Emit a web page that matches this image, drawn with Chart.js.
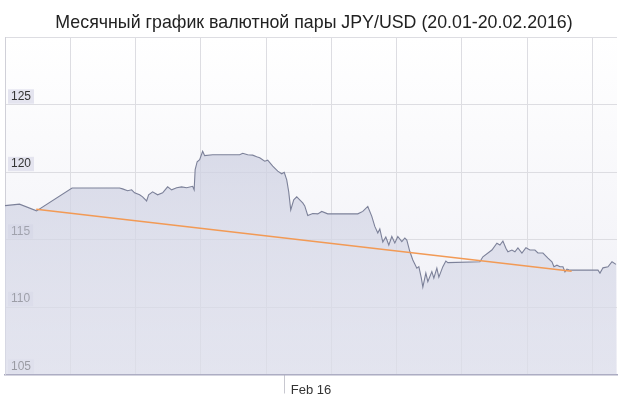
<!DOCTYPE html>
<html>
<head>
<meta charset="utf-8">
<script src="https://cdn.jsdelivr.net/npm/chart.js@4/dist/chart.umd.min.js"></script>
<style>
  html, body { margin: 0; padding: 0; background: #fff; }
  #wrap { position: relative; width: 628px; height: 396px; }
  #title {
    position: absolute; left: 0; top: 11px; width: 628px;
    text-align: center; line-height: 22px; white-space: nowrap;
    font-family: 'Liberation Sans', Arial, sans-serif; font-size: 17.8px; color: #222;
  }
  canvas { position: absolute; left: 0; top: 0; }
</style>
</head>
<body>
<div id="wrap">
  <canvas id="rateChart" width="628" height="396"></canvas>
  <div id="title">Месячный график валютной пары JPY/USD (20.01-20.02.2016)</div>
</div>
<script>
// time axis is an index along the month (no calendar gaps), price in JPY/USD
const times = [0, 14.5, 31.5, 67, 114.5, 117.5, 122.5, 126.5, 129.5, 134.5, 137.5, 141.5, 143.5, 147.5,
  152.5, 157.5, 162.5, 166.5, 171.5, 176.5, 181.5, 187.5, 189, 190, 192, 194.5, 197.5, 199.5, 207.5,
  234.5, 237.5, 242.5, 247.5, 251.5, 254.5, 259.5, 262.5, 267.5, 272.5, 276.5, 279, 281.5, 283.5,
  285.5, 288.5, 291.5, 294.5, 297.5, 299.5, 302.5, 307.5, 312.5, 316.5, 322.5, 352.5, 357.5, 362.5,
  366.5, 369.5, 372.5, 374.5, 377.5, 380.5, 383.5, 386.5, 389.5, 392.5, 396.5, 399.5, 401.5, 404.5,
  407.5, 411.5, 413.5, 416, 417.5, 420.5, 422.5, 426.5, 428.5, 431.5, 433.5, 437.5, 440.5, 442.5,
  474.5, 477.5, 486.5, 491.5, 494.5, 497.5, 500.5, 502.5, 506.5, 509.5, 512.5, 516.5, 520.5, 524.5,
  529.5, 532.5, 537.5, 542.5, 546.5, 548.5, 551.5, 554.5, 557.5, 559.5, 561.5, 564.5, 592.5, 594.5,
  597.5, 602.5, 606.5, 610.5];
const prices = [117.51, 117.62, 117.12, 118.81, 118.81, 118.75, 118.61, 118.68, 118.46, 118.31, 118.16,
  117.86, 118.31, 118.53, 118.31, 118.46, 118.90, 118.68, 118.83, 118.90, 118.83, 118.94, 118.68,
  120.17, 120.76, 120.91, 121.54, 121.21, 121.28, 121.28, 121.39, 121.28, 121.25, 121.13, 121.06,
  120.80, 120.87, 120.43, 120.06, 119.87, 119.98, 119.42, 118.53, 117.19, 117.94, 118.16, 117.94,
  117.71, 117.49, 116.78, 116.93, 116.90, 117.08, 116.90, 116.90, 117.08, 117.45, 116.71, 115.97,
  115.48, 115.78, 114.81, 115.19, 114.59, 115.22, 114.74, 115.22, 114.85, 115.11, 114.96, 114.11,
  113.48, 112.88, 112.99, 112.14, 111.47, 112.51, 111.88, 112.62, 112.14, 112.88, 112.21, 112.99,
  113.40, 113.29, 113.35, 113.72, 114.22, 114.72, 114.59, 114.89, 114.35, 114.09, 114.22, 114.09,
  114.37, 114.00, 114.39, 114.22, 114.22, 114.00, 114.00, 113.62, 113.35, 112.98, 113.10, 112.98,
  112.98, 112.61, 112.81, 112.73, 112.73, 112.51, 112.90, 112.98, 113.35, 113.16];
const trendTimes = [31.2, 566.2];
const trendPrices = [117.24, 112.64];
const yTicks = [105, 110, 115, 120, 125, 130];
const monthTicks = [279.5];
const monthLabels = ['Feb 16'];

const TIME_MAX = 611.5;
const GRID_STEP = 65.2;

const chartBg = {
  id: 'chartBg',
  beforeDraw(chart) {
    const { ctx, chartArea: a } = chart;
    const g = ctx.createLinearGradient(0, a.top, 0, a.bottom);
    g.addColorStop(0, '#ffffff');
    g.addColorStop(1, '#eeeef5');
    ctx.save();
    ctx.fillStyle = g;
    ctx.fillRect(a.left, a.top, a.right - a.left, a.bottom - a.top);
    ctx.restore();
  }
};

const ctx = document.getElementById('rateChart').getContext('2d');
new Chart(ctx, {
  type: 'line',
  data: {
    datasets: [
      {
        label: 'Trend',
        data: trendTimes.map((t, i) => ({ x: t, y: trendPrices[i] })),
        borderColor: '#f29a55',
        borderWidth: 1.5,
        pointRadius: 0,
        fill: false,
        order: 0
      },
      {
        label: 'JPY/USD',
        data: times.map((t, i) => ({ x: t, y: prices[i] })),
        borderColor: '#7c8199',
        borderWidth: 1.1,
        pointRadius: 0,
        tension: 0,
        fill: 'start',
        backgroundColor: (c) => {
          const a = c.chart.chartArea;
          if (!a) return 'rgba(205,208,226,0.7)';
          const g = c.chart.ctx.createLinearGradient(0, a.top, 0, a.bottom);
          g.addColorStop(0, 'rgba(198,201,221,0.8)');
          g.addColorStop(1, 'rgba(220,222,235,0.6)');
          return g;
        },
        order: 1
      }
    ]
  },
  options: {
    responsive: false,
    animation: false,
    layout: { padding: { left: -7, right: 11, top: 37, bottom: 21.5 } },
    plugins: {
      legend: { display: false },
      tooltip: { enabled: false },
      title: { display: false }
    },
    scales: {
      x: {
        type: 'linear',
        position: 'bottom',
        min: 0,
        max: TIME_MAX,
        afterBuildTicks: (axis) => {
          const ticks = [];
          for (let v = 0; v < TIME_MAX; v += GRID_STEP) ticks.push({ value: v });
          axis.ticks = ticks;
        },
        ticks: { display: false },
        grid: { color: '#dddde2', drawTicks: false },
        border: { color: '#a9a9c0', width: 1.5 }
      },
      xm: {
        type: 'linear',
        position: 'bottom',
        min: 0,
        max: TIME_MAX,
        afterBuildTicks: (axis) => { axis.ticks = monthTicks.map(v => ({ value: v })); },
        ticks: {
          callback: (v, i) => monthLabels[i],
          align: 'start',
          mirror: true,
          labelOffset: 6,
          padding: -24,
          color: '#333',
          font: { family: 'Liberation Sans, Arial, sans-serif', size: 13 }
        },
        grid: { drawOnChartArea: false, tickLength: 19, color: '#c8c8d0' },
        border: { display: false }
      },
      y: {
        type: 'linear',
        position: 'left',
        min: 105,
        max: 130,
        afterBuildTicks: (axis) => { axis.ticks = yTicks.map(v => ({ value: v })); },
        ticks: {
          mirror: true,
          padding: 6,
          labelOffset: -8,
          callback: (v) => (v === 130 ? '' : String(v)),
          color: '#333',
          font: { family: 'Liberation Sans, Arial, sans-serif', size: 12 },
          showLabelBackdrop: true,
          backdropColor: (c) => (c.tick && c.tick.value === 130 ? 'rgba(0,0,0,0)' : '#e4e4ef'),
          backdropPadding: { top: 0, bottom: 0, left: 3, right: 3 }
        },
        grid: { color: '#dddde2', drawTicks: false },
        border: { color: '#d0d0d8' }
      }
    }
  },
  plugins: [chartBg]
});
</script>
</body>
</html>
